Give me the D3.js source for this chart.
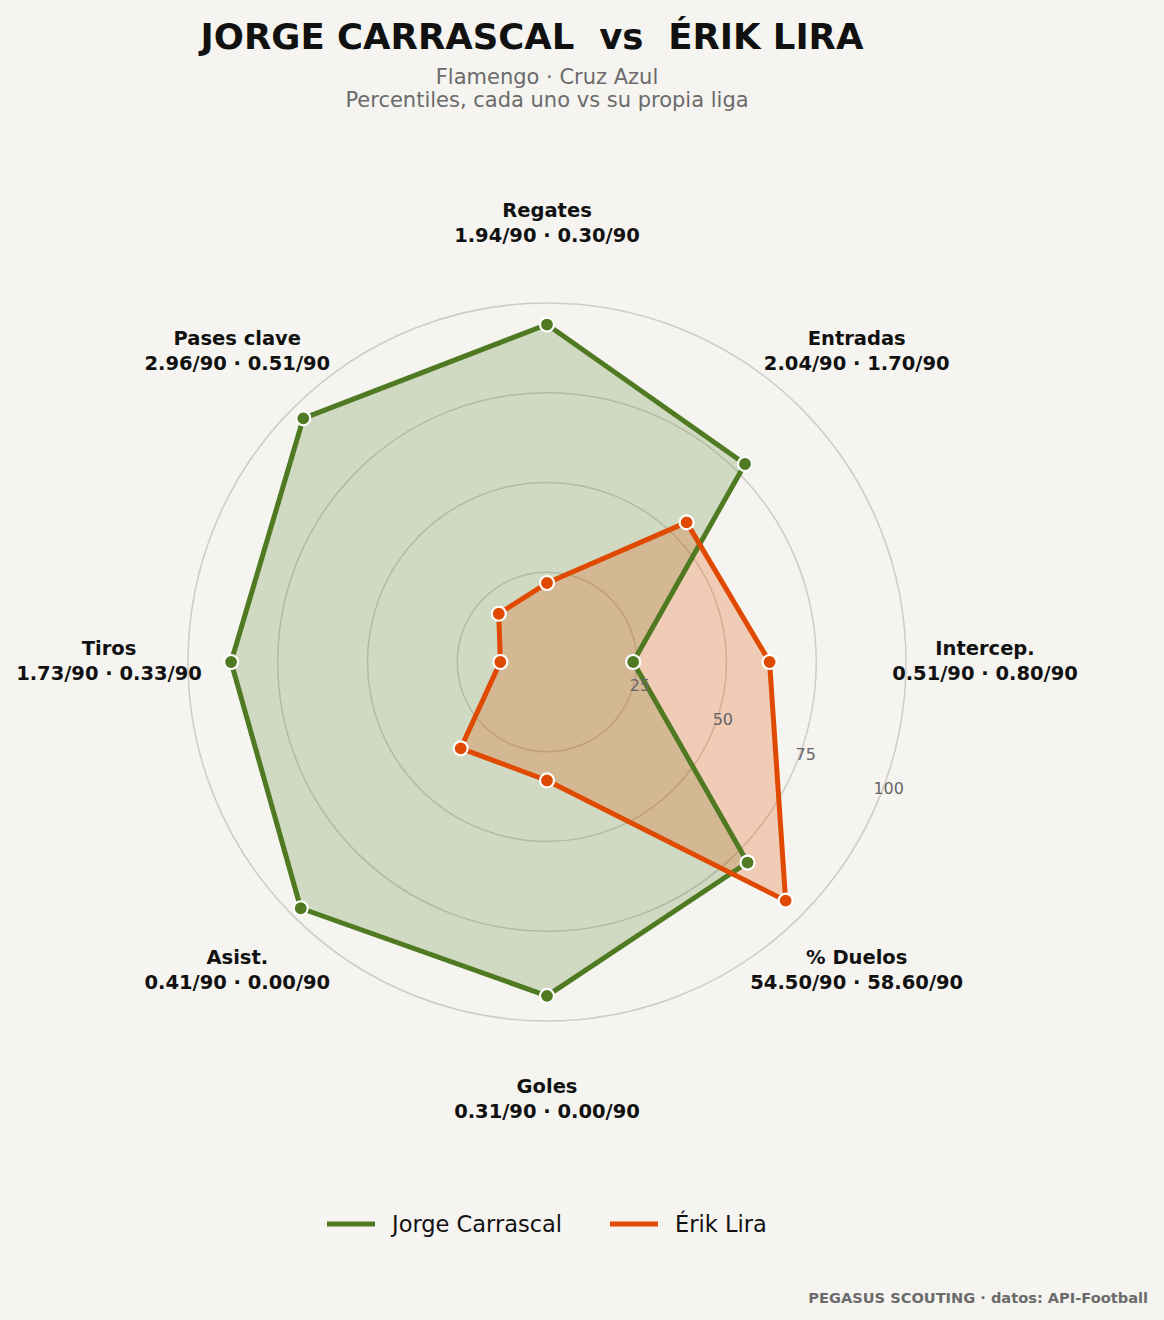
<!DOCTYPE html>
<html>
<head>
<meta charset="utf-8">
<script src="https://cdn.jsdelivr.net/npm/d3@7"></script>
<style>
  body { margin: 0; background: #f5f4f0; }
  svg { display: block; font-family: "DejaVu Sans", sans-serif; }
</style>
</head>
<body>
<svg id="chart"></svg>
<script>
// radar of two players, percentiles vs own league

const axesNames = ["Regates", "Entradas", "Intercep.", "% Duelos", "Goles", "Asist.", "Tiros", "Pases clave"];
const axesRaw = ["1.94/90 · 0.30/90", "2.04/90 · 1.70/90", "0.51/90 · 0.80/90", "54.50/90 · 58.60/90",
                 "0.31/90 · 0.00/90", "0.41/90 · 0.00/90", "1.73/90 · 0.33/90", "2.96/90 · 0.51/90"];
const carrascal = [94, 78, 24, 79, 93, 97, 88, 96];
const lira = [22, 55, 62, 94, 33, 34, 13, 19];
const ringTicks = [25, 50, 75, 100];
const playerNames = ["Jorge Carrascal", "Érik Lira"];
const playerColors = ["#4f7a21", "#e04a00"];

const width = 1164, height = 1320;
const cx = 547, cy = 662;

let svg = d3.select("#chart")
	.attr("width", width)
	.attr("height", height);

svg.append("rect")
	.attr("width", width)
	.attr("height", height)
	.attr("fill", "#f5f4f0");

let r = d3.scaleLinear().domain([0, 100]).range([0, 359]);
let angle = d3.scaleLinear().domain([0, axesNames.length]).range([0, 2 * Math.PI]);

let g = svg.append("g").attr("transform", "translate(" + cx + "," + cy + ")");

// rings
g.selectAll("circle.ring")
	.data(ringTicks)
	.join("circle")
	.attr("class", "ring")
	.attr("r", d => r(d))
	.attr("fill", "none")
	.attr("stroke", "#cfccc6")
	.attr("stroke-width", 1.5);

let series = [carrascal, lira];

let lineGen = d3.lineRadial()
	.angle((d, i) => angle(i))
	.radius(d => r(d))
	.curve(d3.curveLinearClosed);

// fills
series.forEach((s, k) => {
	g.append("path")
		.attr("d", lineGen(s))
		.attr("fill", playerColors[k])
		.attr("fill-opacity", k == 0 ? 0.22 : 0.24)
		.attr("stroke", "none");
});

// lines
series.forEach((s, k) => {
	g.append("path")
		.attr("d", lineGen(s))
		.attr("fill", "none")
		.attr("stroke", playerColors[k])
		.attr("stroke-width", 5)
		.attr("stroke-linejoin", "round");
});

// points
series.forEach((s, k) => {
	g.selectAll("circle.pt" + k)
		.data(s)
		.join("circle")
		.attr("class", "pt" + k)
		.attr("cx", (d, i) => r(d) * Math.sin(angle(i)))
		.attr("cy", (d, i) => -r(d) * Math.cos(angle(i)))
		.attr("r", 7)
		.attr("fill", playerColors[k])
		.attr("stroke", "white")
		.attr("stroke-width", 2.2);
});

// tick labels
let tickAngle = 112.5 * Math.PI / 180;
g.selectAll("text.tick")
	.data(ringTicks)
	.join("text")
	.attr("class", "tick")
	.attr("x", d => r(d) * Math.sin(tickAngle) + 10)
	.attr("y", d => -r(d) * Math.cos(tickAngle) - 11)
	.attr("text-anchor", "middle")
	.attr("dominant-baseline", "central")
	.attr("font-size", 16)
	.attr("fill", "#666")
	.text(d => d);

// axis labels
let labelR = 438;
let labels = g.selectAll("g.axlabel")
	.data(axesNames)
	.join("g")
	.attr("class", "axlabel")
	.attr("transform", (d, i) => "translate(" + labelR * Math.sin(angle(i)) + "," + (-labelR * Math.cos(angle(i))) + ")");

labels.append("text")
	.attr("y", -14)
	.attr("text-anchor", "middle")
	.attr("dominant-baseline", "central")
	.attr("font-size", 19.5)
	.attr("font-weight", "bold")
	.attr("fill", "#111")
	.text(d => d);

labels.append("text")
	.attr("y", 11)
	.attr("text-anchor", "middle")
	.attr("dominant-baseline", "central")
	.attr("font-size", 19.5)
	.attr("font-weight", "bold")
	.attr("fill", "#111")
	.text((d, i) => axesRaw[i]);

// titles
svg.append("text")
	.attr("x", 532)
	.attr("y", 36)
	.attr("text-anchor", "middle")
	.attr("dominant-baseline", "central")
	.attr("font-size", 35.5)
	.attr("font-weight", "bold")
	.attr("fill", "#111")
	.text("JORGE CARRASCAL  vs  ÉRIK LIRA")
	.style("white-space", "pre");

svg.append("text")
	.attr("x", 547)
	.attr("y", 77)
	.attr("text-anchor", "middle")
	.attr("dominant-baseline", "central")
	.attr("font-size", 21)
	.attr("fill", "#6b6b6b")
	.text("Flamengo · Cruz Azul");

svg.append("text")
	.attr("x", 547)
	.attr("y", 100)
	.attr("text-anchor", "middle")
	.attr("dominant-baseline", "central")
	.attr("font-size", 21)
	.attr("fill", "#6b6b6b")
	.text("Percentiles, cada uno vs su propia liga");

// legend
let legendX = [327, 610];
playerNames.forEach((name, k) => {
	svg.append("line")
		.attr("x1", legendX[k])
		.attr("x2", legendX[k] + 48)
		.attr("y1", 1224)
		.attr("y2", 1224)
		.attr("stroke", playerColors[k])
		.attr("stroke-width", 5);
	svg.append("text")
		.attr("x", legendX[k] + 65)
		.attr("y", 1224)
		.attr("dominant-baseline", "central")
		.attr("font-size", 22.5)
		.attr("fill", "#111")
		.text(name);
});

// footer
svg.append("text")
	.attr("x", 1148)
	.attr("y", 1297)
	.attr("text-anchor", "end")
	.attr("dominant-baseline", "central")
	.attr("font-size", 14.6)
	.attr("font-weight", "bold")
	.attr("fill", "#6b6b6b")
	.text("PEGASUS SCOUTING · datos: API-Football");
</script>
</body>
</html>
